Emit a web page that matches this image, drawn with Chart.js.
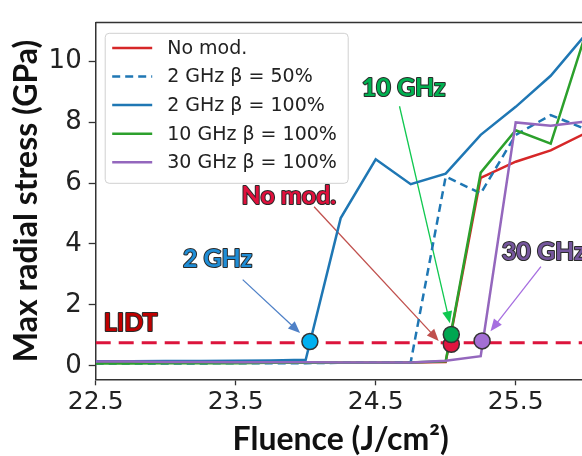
<!DOCTYPE html>
<html><head><meta charset="utf-8">
<script src="https://cdn.jsdelivr.net/npm/chart.js@4/dist/chart.umd.min.js"></script>
<style>html,body{margin:0;padding:0;overflow:hidden;background:#fff;width:582px;height:456px}</style>
</head><body>
<canvas id="c" width="600" height="456" style="width:600px;height:456px;display:block"></canvas>
<script>
// ---- data ----
const fluence   = [22.5, 22.75, 23.0, 23.25, 23.5, 23.75, 24.0, 24.25, 24.5, 24.75, 25.0, 25.25, 25.5, 25.75, 26.0];
const noMod     = [0.10, 0.10, 0.10, 0.10, 0.10, 0.10, 0.10, 0.10, 0.10, 0.11, 0.13, 6.17, 6.70, 7.07, 7.64];
const ghz2b50   = [0.08, 0.08, 0.08, 0.08, 0.09, 0.09, 0.09, 0.10, 0.10, 0.12, 6.21, 5.66, 7.58, 8.23, 7.77];
const ghz2b100  = [0.15, 0.15, 0.16, 0.16, 0.17, 0.18, 0.20, 4.85, 6.78, 5.96, 6.31, 7.58, 8.50, 9.52, 10.88];
const ghz10b100 = [0.08, 0.08, 0.09, 0.09, 0.09, 0.10, 0.10, 0.10, 0.10, 0.11, 0.15, 6.34, 7.73, 7.29, 10.90];
const ghz30b100 = [0.14, 0.14, 0.13, 0.13, 0.12, 0.12, 0.12, 0.11, 0.11, 0.11, 0.17, 0.32, 7.99, 7.88, 8.02];
const seriesNames = ['No mod.', '2 GHz \u03b2 = 50%', '2 GHz \u03b2 = 100%', '10 GHz \u03b2 = 100%', '30 GHz \u03b2 = 100%'];
const lidtValue = 0.76;
const markerX = [24.03, 25.04, 25.04, 25.26];
const markerY = [0.80, 0.71, 1.03, 0.82];
const markerColors = ['#00b0f0', '#e0153f', '#00a651', '#a36fd4'];
const xTicks = [22.5, 23.5, 24.5, 25.5];
const yTicks = [0, 2, 4, 6, 8, 10];
const annoText  = ['2 GHz', 'LIDT', 'No mod.', '10 GHz', '30 GHz'];
const annoX     = [23.37, 22.75, 23.88, 24.70, 25.70];
const annoY     = [3.26, 1.14, 5.30, 8.84, 3.47];
const annoColor = ['#1f8dd6', '#c00000', '#e0103c', '#00b050', '#75569c'];
const arrowX0 = [23.55, 24.06, 24.67, 25.68];
const arrowY0 = [2.83, 5.22, 8.52, 3.26];
const arrowX1 = [23.96, 24.95, 25.03, 25.32];
const arrowY1 = [1.08, 0.82, 1.40, 1.14];
const arrowColor = ['#4f81c7', '#c0504d', '#10c850', '#a66ee0'];

const pts = arr => fluence.map((f, i) => ({x: f, y: arr[i]}));
const lineDs = (label, arr, color, order, dash) => ({
  label, data: pts(arr), borderColor: color, backgroundColor: color, borderWidth: 2.5,
  borderDash: dash || [], pointRadius: 0, tension: 0, order, fill: false
});

const datasets = [
  lineDs(seriesNames[0], noMod, '#d62728', 5),
  lineDs(seriesNames[1], ghz2b50, '#1f77b4', 4, [8, 5]),
  lineDs(seriesNames[2], ghz2b100, '#1f77b4', 3),
  lineDs(seriesNames[3], ghz10b100, '#2ca02c', 2),
  lineDs(seriesNames[4], ghz30b100, '#9467bd', 1),
  { label: 'LIDT', data: [{x: 22.5, y: lidtValue}, {x: 26.0, y: lidtValue}], borderColor: '#dc143c',
    borderWidth: 3, borderDash: [15, 8], pointRadius: 0, order: 0 },
  { type: 'scatter', label: 'markers', data: markerX.map((x, i) => ({x, y: markerY[i]})),
    pointRadius: 8, pointHoverRadius: 8, pointBackgroundColor: markerColors, pointBorderColor: '#333',
    pointBorderWidth: 1.5, showLine: false, order: -1, clip: false }
];

const decor = {
  id: 'decor',
  beforeDatasetsDraw(chart) {
    const {ctx, scales: {x, y}} = chart;
    ctx.save();
    for (let i = 0; i < arrowX0.length; i++) {
      const x0 = x.getPixelForValue(arrowX0[i]), y0 = y.getPixelForValue(arrowY0[i]);
      const x1 = x.getPixelForValue(arrowX1[i]), y1 = y.getPixelForValue(arrowY1[i]);
      const a = Math.atan2(y1 - y0, x1 - x0), L = 12, W = 5;
      ctx.strokeStyle = arrowColor[i]; ctx.fillStyle = arrowColor[i]; ctx.lineWidth = 1.3;
      ctx.beginPath(); ctx.moveTo(x0, y0);
      ctx.lineTo(x1 - L * 0.8 * Math.cos(a), y1 - L * 0.8 * Math.sin(a)); ctx.stroke();
      ctx.beginPath(); ctx.moveTo(x1, y1);
      ctx.lineTo(x1 - L * Math.cos(a) + W * Math.sin(a), y1 - L * Math.sin(a) - W * Math.cos(a));
      ctx.lineTo(x1 - L * Math.cos(a) - W * Math.sin(a), y1 - L * Math.sin(a) + W * Math.cos(a));
      ctx.closePath(); ctx.fill();
    }
    ctx.restore();
  },
  afterDraw(chart) {
    const {ctx, chartArea: ca, scales: {x, y}} = chart;
    ctx.save();
    // top spine
    ctx.strokeStyle = '#333'; ctx.lineWidth = 1.5;
    ctx.beginPath(); ctx.moveTo(ca.left, ca.top); ctx.lineTo(ca.right, ca.top); ctx.stroke();
    // legend
    const lx = ca.left + 9.5, ly = ca.top + 10.7, lw = 243, lh = 150, r = 4;
    ctx.fillStyle = 'rgba(255,255,255,0.85)'; ctx.strokeStyle = '#d0d0d0'; ctx.lineWidth = 1;
    ctx.beginPath(); ctx.roundRect(lx, ly, lw, lh, r); ctx.fill(); ctx.stroke();
    ctx.font = '19px "DejaVu Sans"'; ctx.textBaseline = 'middle'; ctx.textAlign = 'left';
    for (let i = 0; i < 5; i++) {
      const ds = chart.data.datasets[i];
      const ry = ly + 14.6 + i * 28.6;
      ctx.strokeStyle = ds.borderColor; ctx.lineWidth = 2.5; ctx.setLineDash(ds.borderDash);
      ctx.beginPath(); ctx.moveTo(lx + 7, ry); ctx.lineTo(lx + 47, ry); ctx.stroke();
      ctx.setLineDash([]);
      ctx.fillStyle = '#222'; ctx.fillText(ds.label, lx + 62, ry + 1);
    }
    // annotation labels
    ctx.font = 'bold 25px Lato'; ctx.textAlign = 'center'; ctx.textBaseline = 'alphabetic';
    ctx.lineJoin = 'round';
    for (let i = 0; i < annoText.length; i++) {
      const px = x.getPixelForValue(annoX[i]), py = y.getPixelForValue(annoY[i]);
      ctx.strokeStyle = '#2a2a2a'; ctx.lineWidth = 2; ctx.strokeText(annoText[i], px, py);
      ctx.fillStyle = annoColor[i]; ctx.fillText(annoText[i], px, py);
    }
    ctx.restore();
  }
};

new Chart(document.getElementById('c'), {
  type: 'line',
  data: { datasets },
  options: {
    responsive: false, animation: false, devicePixelRatio: 1,
    layout: { padding: { left: 0, top: 12, right: 14.3, bottom: 0 } },
    plugins: { legend: { display: false }, tooltip: { enabled: false } },
    scales: {
      x: {
        type: 'linear', min: 22.5, max: 26.0,
        afterBuildTicks: s => { s.ticks = xTicks.map(v => ({value: v})); },
        afterFit: s => { s.height = 76.7; },
        ticks: { font: { family: 'DejaVu Sans', size: 25 }, color: '#222', padding: 2, maxRotation: 0, autoSkip: false,
                 callback: v => Number(v).toFixed(1) },
        grid: { drawOnChartArea: false, tickLength: 6, color: '#333', tickWidth: 1.3 },
        border: { color: '#333', width: 1.5 },
        title: { display: true, text: 'Fluence (J/cm\u00b2)', color: '#111',
                 font: { family: 'Lato', weight: 'bold', size: 32, lineHeight: 1 }, padding: { top: 0, bottom: 0 } }
      },
      y: {
        type: 'linear', min: -0.44, max: 11.264,
        afterBuildTicks: s => { s.ticks = yTicks.map(v => ({value: v})); },
        afterFit: s => { s.width = 95.7; },
        ticks: { font: { family: 'DejaVu Sans', size: 26 }, color: '#222', padding: 7, autoSkip: false },
        grid: { drawOnChartArea: false, tickLength: 7, color: '#333', tickWidth: 1.3 },
        border: { color: '#333', width: 1.5 },
        title: { display: true, text: 'Max radial stress (GPa)', color: '#111',
                 font: { family: 'Lato', weight: 'bold', size: 32, lineHeight: 1 }, padding: { top: 11, bottom: 0 } }
      }
    }
  },
  plugins: [decor]
});
</script>
</body></html>
